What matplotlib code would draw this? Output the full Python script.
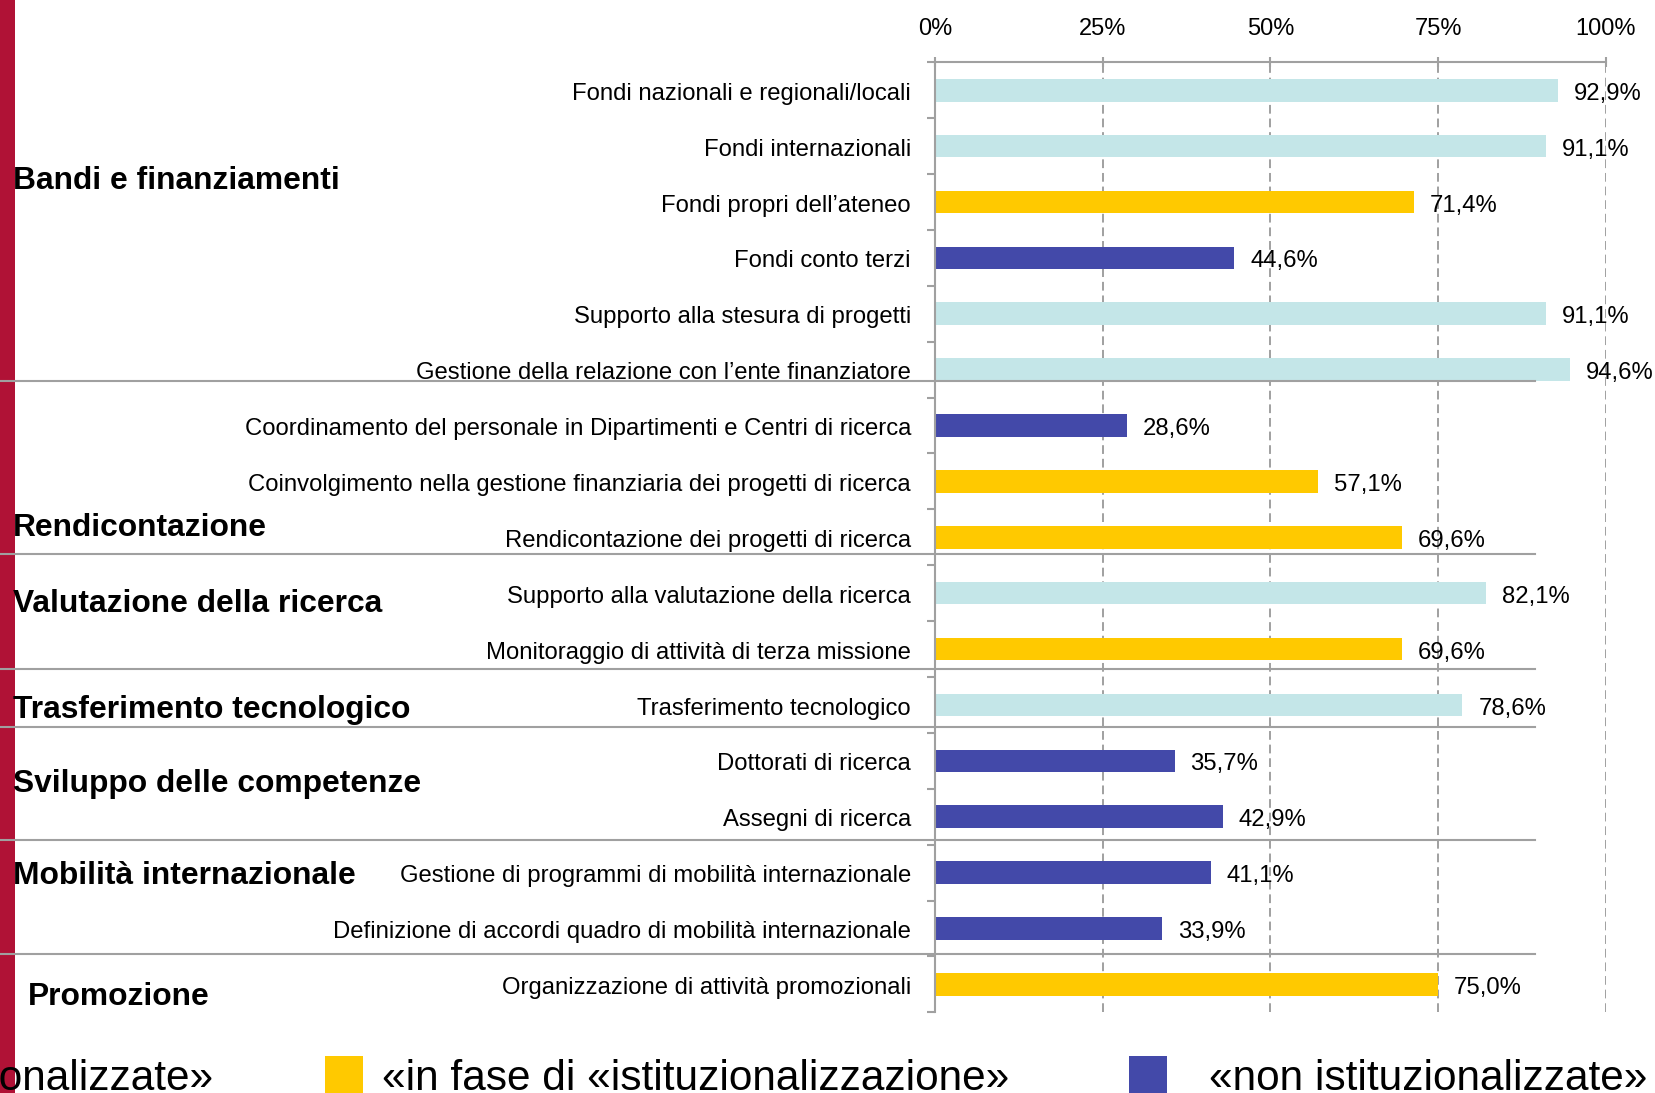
import matplotlib
matplotlib.use("Agg")
import matplotlib.pyplot as plt
from matplotlib.patches import Rectangle
from matplotlib.lines import Line2D
from matplotlib import transforms

plt.rcParams['font.family'] = ['Liberation Sans', 'DejaVu Sans']

# ---------------- data ----------------
categories = [
    "Fondi nazionali e regionali/locali",
    "Fondi internazionali",
    "Fondi propri dell\u2019ateneo",
    "Fondi conto terzi",
    "Supporto alla stesura di progetti",
    "Gestione della relazione con l\u2019ente finanziatore",
    "Coordinamento del personale in Dipartimenti e Centri di ricerca",
    "Coinvolgimento nella gestione finanziaria dei progetti di ricerca",
    "Rendicontazione dei progetti di ricerca",
    "Supporto alla valutazione della ricerca",
    "Monitoraggio di attivit\u00e0 di terza missione",
    "Trasferimento tecnologico",
    "Dottorati di ricerca",
    "Assegni di ricerca",
    "Gestione di programmi di mobilit\u00e0 internazionale",
    "Definizione di accordi quadro di mobilit\u00e0 internazionale",
    "Organizzazione di attivit\u00e0 promozionali",
]
values = [92.9, 91.1, 71.4, 44.6, 91.1, 94.6, 28.6, 57.1, 69.6, 82.1, 69.6,
          78.6, 35.7, 42.9, 41.1, 33.9, 75.0]
status = ["ist", "ist", "fase", "non", "ist", "ist", "non", "fase", "fase",
          "ist", "fase", "ist", "non", "non", "non", "non", "fase"]
groups = ["Bandi e finanziamenti", "Rendicontazione", "Valutazione della ricerca",
          "Trasferimento tecnologico", "Sviluppo delle competenze",
          "Mobilit\u00e0 internazionale", "Promozione"]
xticks = [0, 25, 50, 75, 100]
xticklabels = ["0%", "25%", "50%", "75%", "100%"]
legend_labels = ["\u00abistituzionalizzate\u00bb",
                 "\u00abin fase di \u00abistituzionalizzazione\u00bb",
                 "\u00abnon istituzionalizzate\u00bb"]

# ---------------- style ----------------
status_colors = {"ist": "#C4E6E8", "fase": "#FFC900", "non": "#4349A9"}
GRAY = "#A0A0A0"
RED = "#B01236"
W, H = 1656, 1093

fig = plt.figure(figsize=(W / 100, H / 100), dpi=100)
fig.patch.set_facecolor("white")

# red strip on the left
fig.add_artist(Rectangle((0, 0), 15 / W, 1, transform=fig.transFigure,
                         facecolor=RED, edgecolor="none", zorder=0))

left, right = 935 / W, 1606 / W
top, bottom = 1 - 62.3 / H, 1 - 1012.3 / H
ax = fig.add_axes([left, bottom, right - left, top - bottom])
ax.set_facecolor("none")

n = len(categories)
ypos = list(range(n))
ax.barh(ypos, values, height=0.405,
        color=[status_colors[s] for s in status], zorder=2)
ax.set_xlim(0, 100)
ax.set_ylim(n - 0.5, -0.5)

for sp in ["right", "bottom"]:
    ax.spines[sp].set_visible(False)
for sp in ["top", "left"]:
    ax.spines[sp].set_color(GRAY)
    ax.spines[sp].set_linewidth(1.5)
    ax.spines[sp].set_zorder(3)

# x axis on top
ax.xaxis.tick_top()
ax.set_xticks(xticks)
ax.set_xticklabels(xticklabels, fontsize=17)
ax.tick_params(axis="x", direction="inout", length=7.5, width=1.5,
               color=GRAY, pad=12.5)
ax.xaxis.grid(True, color=GRAY, linestyle=(0, (4.5, 2.5)), linewidth=1.4,
              zorder=1)
ax.set_axisbelow(True)

# y axis: ticks at row boundaries, no labels from the axis
ax.set_yticks(ypos)
ax.set_yticklabels([])
ax.tick_params(axis="y", which="major", length=0)
ax.set_yticks([i - 0.5 for i in range(n + 1)], minor=True)
ax.tick_params(axis="y", which="minor", direction="out", length=5.5,
               width=1.5, color=GRAY)

# category labels
for i, c in enumerate(categories):
    ax.annotate(c, xy=(0, i), xycoords=("axes fraction", "data"),
                xytext=(-17.3, -6.9), textcoords="offset points",
                ha="right", va="baseline", fontsize=17.2, color="black",
                annotation_clip=False)

# value labels
for i, v in enumerate(values):
    ax.annotate(f"{v:.1f}".replace(".", ",") + "%", xy=(v, i),
                xytext=(11.5, -6.9), textcoords="offset points",
                ha="left", va="baseline", fontsize=17.2, color="black",
                annotation_clip=False, zorder=4)

# group separators (x in figure fraction, y in data)
sep_y = [5.198, 8.305, 10.348, 11.390, 13.424, 15.464]
blend = transforms.blended_transform_factory(fig.transFigure, ax.transData)
for y in sep_y:
    fig.add_artist(Line2D([0, 1535 / W], [y, y], transform=blend,
                          color=GRAY, linewidth=1.5, zorder=5))

# group titles
group_x = [13, 13, 13, 13, 13, 13, 28]
group_baseline = [189, 536, 611.7, 718, 791.7, 884, 1005]
for g, gx, gb in zip(groups, group_x, group_baseline):
    fig.text(gx / W, 1 - gb / H, g, fontsize=22.9, fontweight="bold",
             ha="left", va="baseline", color="black", zorder=6)

# legend (cut off at the bottom of the picture, as in the reference)
leg_base = 1 - 1090 / H
fig.text(213 / W, leg_base, legend_labels[0], fontsize=30.5, ha="right",
         va="baseline", zorder=6)
fig.add_artist(Rectangle((325 / W, 1 - 1094 / H), 38 / W, 38 / H,
                         transform=fig.transFigure,
                         facecolor=status_colors["fase"], edgecolor="none"))
fig.text(382 / W, leg_base, legend_labels[1], fontsize=30.5, ha="left",
         va="baseline", zorder=6)
fig.add_artist(Rectangle((1129 / W, 1 - 1094 / H), 38 / W, 38 / H,
                         transform=fig.transFigure,
                         facecolor=status_colors["non"], edgecolor="none"))
fig.text(1209 / W, leg_base, legend_labels[2], fontsize=30.5, ha="left",
         va="baseline", zorder=6)

fig.savefig("out.png", dpi=100)
